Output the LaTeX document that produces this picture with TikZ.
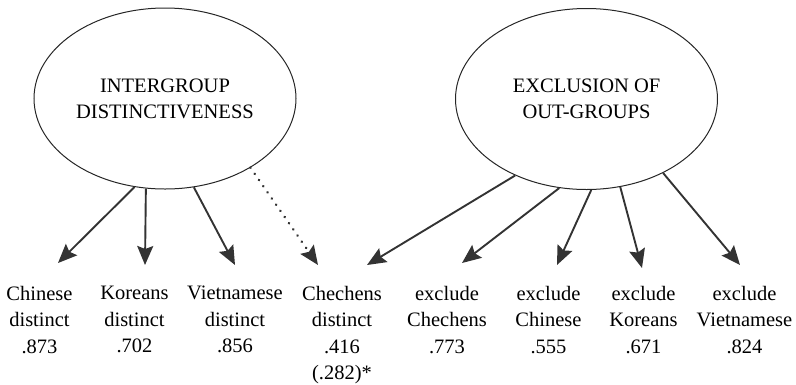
\documentclass[tikz,border=0pt]{standalone}
\usepackage{fontspec}
\setmainfont{Liberation Serif}
\usetikzlibrary{shapes.geometric,arrows.meta}
\begin{document}
\begin{tikzpicture}[x=1pt,y=-1pt,
  latent/.style={ellipse,draw=black!85,line width=1pt,minimum width=262pt,minimum height=181pt,inner sep=0pt,align=center,font=\fontsize{20.5}{26}\selectfont},
  obs/.style={anchor=north,align=center,inner sep=0pt,font=\fontsize{20.5}{26.5}\selectfont},
  load/.style={draw=black!80,line width=1.9pt,-{Stealth[length=19pt,width=16pt,inset=3pt]}},
  weak/.style={load,line width=2.8pt,line cap=round,dash pattern=on 0.01pt off 7.5pt}]
\useasboundingbox (0,0) rectangle (796,384);
\node[latent] (IG) at (165,98.5) {INTERGROUP\\DISTINCTIVENESS};
\node[latent] (EX) at (586.5,99) {EXCLUSION OF\\OUT-GROUPS};
\node[obs] (n1) at (39.5,286) {Chinese\\distinct\\.873};
\node[obs] (n2) at (134.5,286) {Koreans\\distinct\\.702};
\node[obs] (n3) at (235,286) {Vietnamese\\distinct\\.856};
\node[obs] (n4) at (342,286) {Chechens\\distinct\\.416\\(.282)*};
\node[obs] (n5) at (447,286) {exclude\\Chechens\\.773};
\node[obs] (n6) at (548.5,286) {exclude\\Chinese\\.555};
\node[obs] (n7) at (643.5,286) {exclude\\Koreans\\.671};
\node[obs] (n8) at (744.5,286) {exclude\\Vietnamese\\.824};
\coordinate (t1) at (58,263);
\coordinate (t2) at (145,265);
\coordinate (t3) at (235,265);
\coordinate (t4) at (318,265);
\coordinate (t5) at (367,265);
\coordinate (t6) at (462,263);
\coordinate (t7) at (557,265);
\coordinate (t8) at (642,268);
\coordinate (t9) at (740,265);
\draw[load] (IG.-109.9) -- (t1);
\draw[load] (IG.-102.5) -- (t2);
\draw[load] (IG.-72.4) -- (t3);
\draw[weak] (IG.-39.5) -- (t4);
\draw[load] (EX.-133.2) -- (t5);
\draw[load] (EX.-107.9) -- (t6);
\draw[load] (EX.-87.8) -- (t7);
\draw[load] (EX.-69.6) -- (t8);
\draw[load] (EX.-44) -- (t9);
\end{tikzpicture}
\end{document}
